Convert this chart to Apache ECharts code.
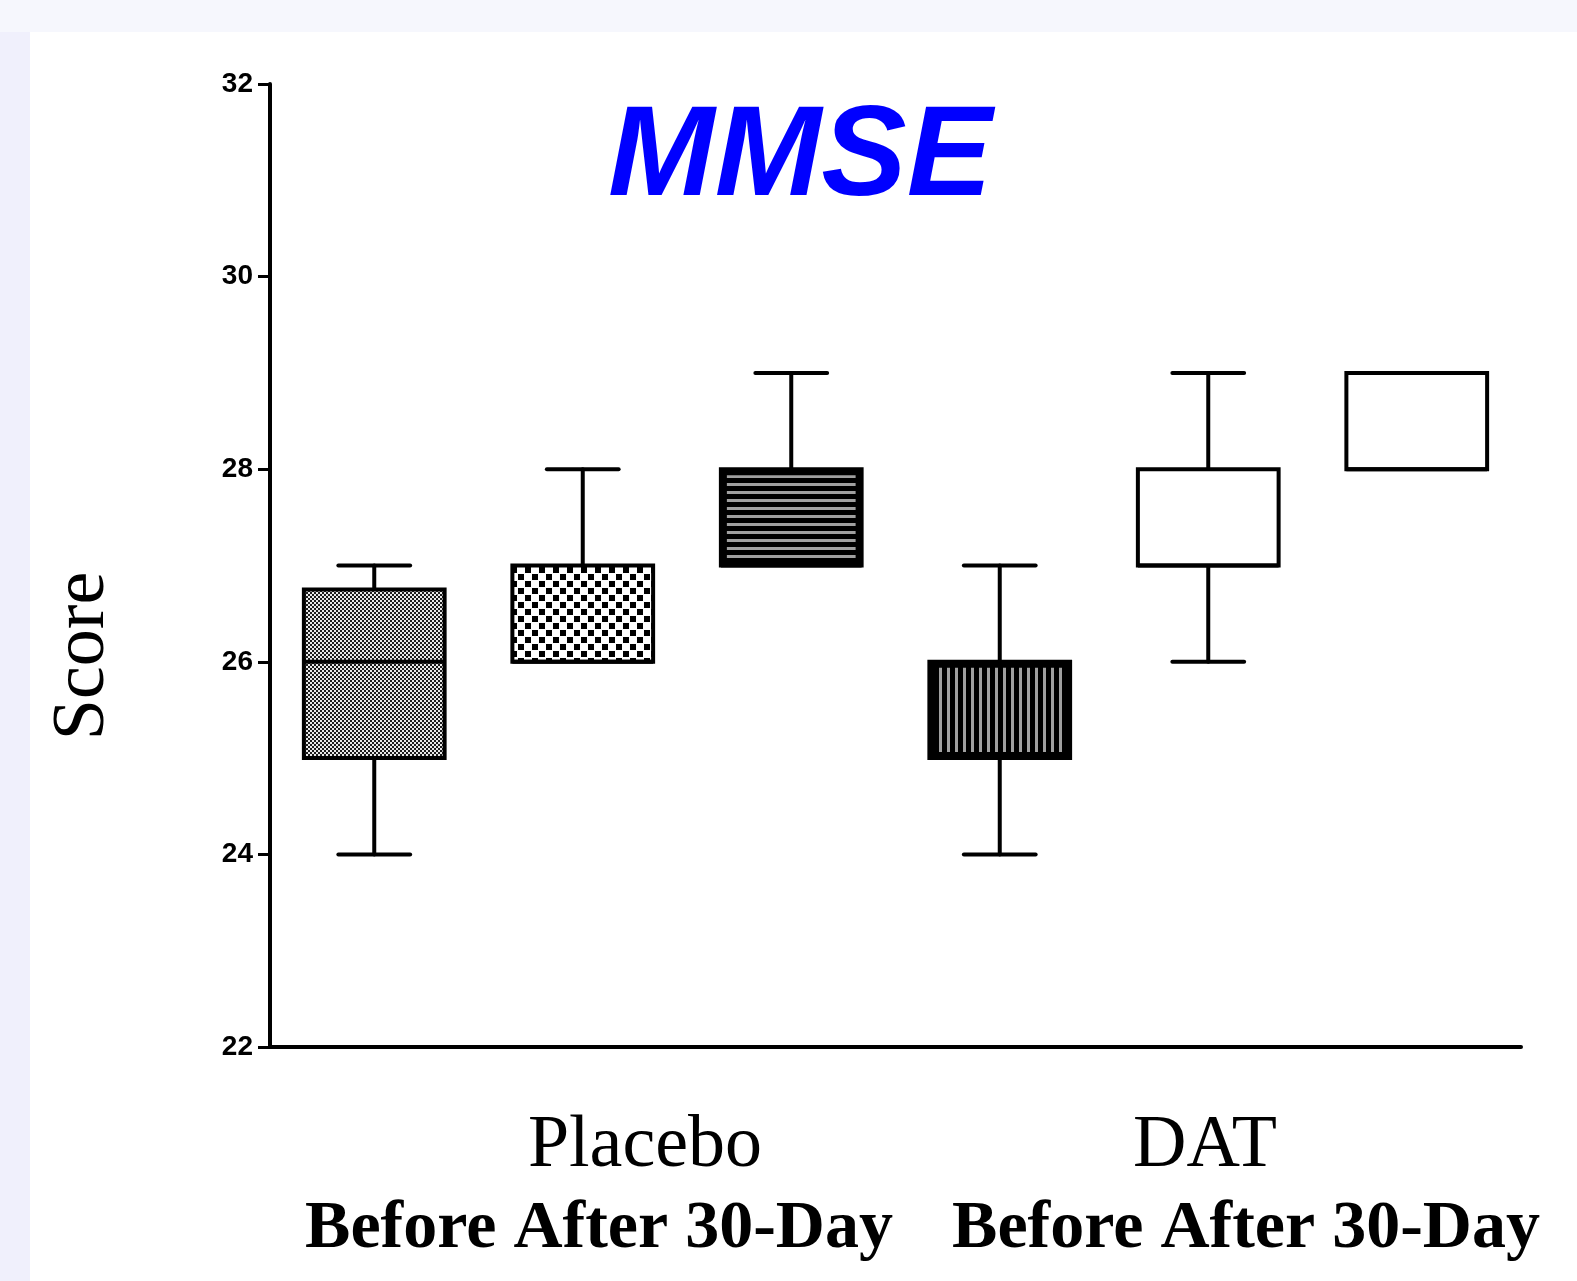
<!DOCTYPE html>
<html><head><meta charset="utf-8">
<script src="https://cdn.jsdelivr.net/npm/echarts@6/dist/echarts.min.js"></script>
<style>
html,body{margin:0;padding:0;background:#f6f7fd;width:1577px;height:1281px;overflow:hidden;}
#leftStrip{position:absolute;left:0;top:32px;width:30px;height:1249px;background:#f0f0fc;}
#panel{position:absolute;left:30px;top:32px;width:1547px;height:1249px;background:#ffffff;}
#c{position:absolute;left:0;top:0;width:1577px;height:1281px;}
</style>
</head><body>
<div id="leftStrip"></div><div id="panel"></div>
<div id="c"></div>
<script>
// ---- data ----
const categories = ['Placebo Before','Placebo After','Placebo 30-Day','DAT Before','DAT After','DAT 30-Day'];
const minValues    = [24, 26, 27, 24, 26, 28];
const q1Values     = [25, 26, 27, 25, 27, 28];
const medianValues = [26, 26, 27, 25, 27, 28];
const q3Values     = [26.75, 27, 28, 26, 28, 29];
const maxValues    = [27, 28, 29, 27, 29, 29];
const fillKinds    = ['fineCheck','check','hLines','vLines','white','white'];
const yTickValues  = [22, 24, 26, 28, 30, 32];
const groupLabels  = ['Placebo', 'DAT'];
const timeLabels   = ['Before After 30-Day', 'Before After 30-Day'];
const titleText    = 'MMSE';
const yAxisName    = 'Score';

// ---- patterns ----
function makeTile(w, h, draw) {
  const c = document.createElement('canvas'); c.width = w; c.height = h;
  draw(c.getContext('2d')); return c;
}
const tiles = {
  fineCheck: makeTile(4, 4, g => { g.fillStyle = '#1c1c1c'; g.fillRect(0,0,4,4); g.fillStyle = '#e8e8e8'; g.fillRect(0,0,2,2); g.fillRect(2,2,2,2); }),
  check: makeTile(14, 14, g => { g.fillStyle = '#fff'; g.fillRect(0,0,14,14); g.fillStyle = '#000'; g.fillRect(0,0,6,6); g.fillRect(7,7,6,6); }),
  hLines: makeTile(8, 8, g => { g.fillStyle = '#000'; g.fillRect(0,0,8,8); g.fillStyle = '#a0a0a0'; g.fillRect(0,3,8,3); }),
  vLines: makeTile(8, 8, g => { g.fillStyle = '#000'; g.fillRect(0,0,8,8); g.fillStyle = '#a0a0a0'; g.fillRect(3,0,3,8); })
};
function pat(k) { return { image: tiles[k], repeat: 'repeat' }; }

const boxData = categories.map((c, i) => [i, minValues[i], q1Values[i], medianValues[i], q3Values[i], maxValues[i]]);

const chart = echarts.init(document.getElementById('c'), null, { renderer: 'canvas' });
const serif = '"Liberation Serif", "Times New Roman", serif';
const LW = 4;

chart.setOption({
  backgroundColor: 'transparent',
  animation: false,
  grid: { left: 270, right: 56, top: 84, bottom: 234, outerBoundsMode: 'none' },
  xAxis: {
    type: 'category', data: categories, boundaryGap: true,
    axisLine: { show: true, lineStyle: { color: '#000', width: LW } },
    axisTick: { show: false }, axisLabel: { show: false }, splitLine: { show: false }
  },
  yAxis: {
    type: 'value', min: yTickValues[0], max: yTickValues[yTickValues.length - 1], interval: 2,
    axisLine: { show: true, lineStyle: { color: '#000', width: LW } },
    axisTick: { show: true, length: 12, lineStyle: { color: '#000', width: 3 } },
    axisLabel: { color: '#000', fontWeight: 'bold', fontSize: 28, margin: 17, padding: [6, 0, 0, 0],
      fontFamily: '"Liberation Sans Narrow", "Arial Narrow", "Liberation Sans", Arial, sans-serif' },
    splitLine: { show: false }
  },
  series: [{
    type: 'custom',
    data: boxData,
    encode: { x: 0, y: [1, 2, 3, 4, 5] },
    renderItem: function (params, api) {
      const i = api.value(0);
      const pMin = api.coord([i, api.value(1)]);
      const pQ1 = api.coord([i, api.value(2)]);
      const pMed = api.coord([i, api.value(3)]);
      const pQ3 = api.coord([i, api.value(4)]);
      const pMax = api.coord([i, api.value(5)]);
      const band = api.size([1, 0])[0];
      const bw = band * 0.675, cw = bw * 0.51;
      const cx = pQ1[0];
      const ls = { stroke: '#000', lineWidth: LW, lineCap: 'round' };
      const ch = [];
      if (pMax[1] < pQ3[1] - 0.5) {
        ch.push({ type: 'line', shape: { x1: cx, y1: pQ3[1], x2: cx, y2: pMax[1] }, style: ls });
        ch.push({ type: 'line', shape: { x1: cx - cw / 2, y1: pMax[1], x2: cx + cw / 2, y2: pMax[1] }, style: ls });
      }
      if (pMin[1] > pQ1[1] + 0.5) {
        ch.push({ type: 'line', shape: { x1: cx, y1: pQ1[1], x2: cx, y2: pMin[1] }, style: ls });
        ch.push({ type: 'line', shape: { x1: cx - cw / 2, y1: pMin[1], x2: cx + cw / 2, y2: pMin[1] }, style: ls });
      }
      const kind = fillKinds[params.dataIndex];
      const rx = cx - bw / 2, ry = pQ3[1], rh = pQ1[1] - pQ3[1];
      let fill = '#fff';
      if (kind === 'fineCheck' || kind === 'check') fill = pat(kind);
      if (kind === 'hLines' || kind === 'vLines') fill = '#000';
      ch.push({ type: 'rect', shape: { x: rx, y: ry, width: bw, height: rh }, style: { fill: fill, stroke: '#000', lineWidth: LW } });
      if (kind === 'hLines' || kind === 'vLines') {
        const ins = 6;
        ch.push({ type: 'rect', shape: { x: rx + ins, y: ry + ins, width: bw - 2 * ins, height: rh - 2 * ins }, style: { fill: pat(kind) } });
      }
      ch.push({ type: 'line', shape: { x1: rx, y1: pMed[1], x2: rx + bw, y2: pMed[1] }, style: { stroke: '#000', lineWidth: LW } });
      return { type: 'group', children: ch };
    }
  }],
  graphic: [
    { type: 'text', x: 800, y: 160, style: { text: titleText, fill: '#0000ff', align: 'center', verticalAlign: 'middle',
      font: 'italic bold 128px "Liberation Sans", Arial, sans-serif' } },
    { type: 'text', x: 84, y: 656, rotation: Math.PI / 2, style: { text: yAxisName, fill: '#000', align: 'center', verticalAlign: 'middle',
      font: '74px ' + serif } },
    { type: 'text', x: 645, y: 1147, style: { text: groupLabels[0], fill: '#000', align: 'center', verticalAlign: 'middle', font: '74px ' + serif } },
    { type: 'text', x: 1205, y: 1147, style: { text: groupLabels[1], fill: '#000', align: 'center', verticalAlign: 'middle', font: '74px ' + serif } },
    { type: 'text', x: 599, y: 1229, style: { text: timeLabels[0], fill: '#000', align: 'center', verticalAlign: 'middle', font: 'bold 68px ' + serif } },
    { type: 'text', x: 1246, y: 1229, style: { text: timeLabels[1], fill: '#000', align: 'center', verticalAlign: 'middle', font: 'bold 68px ' + serif } }
  ]
});
</script>
</body></html>
